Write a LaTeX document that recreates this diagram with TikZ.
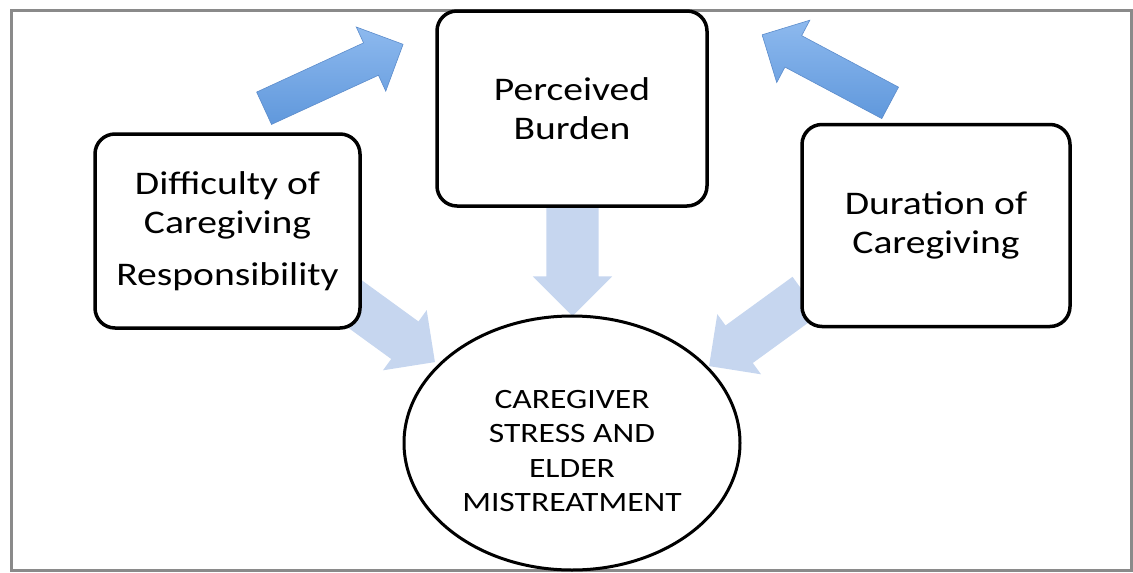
\documentclass[tikz,border=0pt]{standalone}
\usepackage{fontspec}
\setmainfont{Carlito}[FakeStretch=1.2]
\usetikzlibrary{shapes.geometric,shapes.arrows}

\definecolor{frameline}{HTML}{8A8A8A}
\definecolor{paleblue}{HTML}{C6D6EF}
\definecolor{uplight}{HTML}{8DB9EE}
\definecolor{updark}{HTML}{6098DC}
\definecolor{upedge}{HTML}{5C8CCB}

\begin{document}
\begin{tikzpicture}[x=1pt,y=-1pt,
	box/.style={rectangle, rounded corners=20pt, draw, line width=3.5pt, fill=white, inner sep=0pt, align=center, font=\fontsize{33}{39}\selectfont},
	upbig/.style={single arrow, inner xsep=0pt, inner ysep=17.5pt, single arrow head extend=17.5pt, top color=uplight, bottom color=updark, draw=upedge, line width=0.6pt},
	downpale/.style={single arrow, inner xsep=0pt, inner ysep=23pt, single arrow head extend=14pt, fill=paleblue, minimum height=120pt}]
	\useasboundingbox (0,0) rectangle (1133,573);
	\draw[frameline, line width=3pt] (11.5,10.5) rectangle (1131,570);

	% pale arrows go under the boxes
	\node (down0)		at (377,320) [downpale, rotate=-36] {};
	\node (down1)		at (572.5,246.5) [downpale, rotate=-90, minimum height=113pt, inner ysep=26pt, single arrow head extend=13.5pt] {};
	\node (down2)		at (767,324) [downpale, rotate=-144] {};

	\node (up0)		at (325.5,80) [upbig, rotate=24.7, minimum height=153pt] {};
	\node (up1)		at (834,73) [upbig, rotate=152, minimum height=145pt] {};

	\node (difficulty)	at (227.5,231) [box, minimum width=265pt, minimum height=194pt] {Difficulty of\\Caregiving\\[13pt]Responsibility};
	\node (burden)		at (572,108.5) [box, minimum width=270pt, minimum height=195pt] {Perceived\\Burden};
	\node (duration)	at (936,225.5) [box, minimum width=268pt, minimum height=202pt] {Duration of\\Caregiving};

	\node (stress)		at (572,443) [ellipse, draw, line width=3pt, fill=white, inner sep=0pt, minimum width=336pt, minimum height=254pt, align=center, font=\fontsize{28}{34.5}\selectfont] {\rule{0pt}{34pt}CAREGIVER\\STRESS AND\\ELDER\\MISTREATMENT};
\end{tikzpicture}
\end{document}
